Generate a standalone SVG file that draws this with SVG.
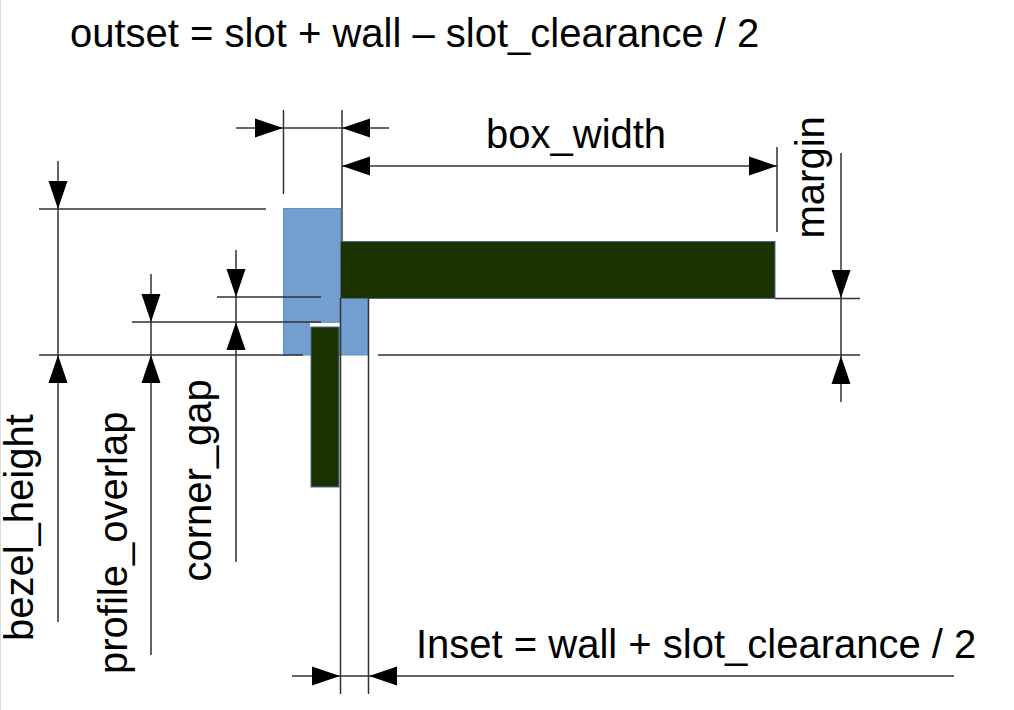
<svg xmlns="http://www.w3.org/2000/svg" width="1014" height="710" viewBox="0 0 1014 710">
<style>
text{font-family:"Liberation Sans",Arial,sans-serif;font-size:40px;fill:#000}
.l{stroke:#333;stroke-width:1.5;fill:none}
.blue{fill:#729fcf;stroke:#5f8fc4;stroke-width:1}
.green{fill:#1a3300;stroke:#4a6f8f;stroke-width:1}
.a{fill:#000}
</style>
<defs>
<path id="r" d="M0 0L-28 -9.500V9.500Z"/>
<path id="lf" d="M0 0L28 -9.500V9.500Z"/>
<path id="d" d="M0 0L-9.500 -28H9.500Z"/>
<path id="u" d="M0 0L-9.500 28H9.500Z"/>
</defs>
<rect width="1014" height="710" fill="#fff"/>
<rect x="0" y="0" width="1" height="710" fill="#ddd"/>
<g id="bezel">
<rect class="blue" x="283.500" y="208.500" width="57" height="146.500"/>
<rect class="blue" x="340.500" y="298" width="27.500" height="57"/>
</g>
<g id="profile-horizontal"><rect class="green" x="340.500" y="241.500" width="434.500" height="57"/></g>
<g id="profile-vertical">
<rect x="310" y="323" width="30" height="4" fill="#fff"/>
<rect class="green" x="311" y="327" width="28" height="160"/>
</g>
<g id="connectors">
<path class="l" d="M283.500 110V194M342 110V241M340.500 298V694M368.500 298V694M777 147V232M841 153V402M58 161V622M151 274V655M236 250V562"/>
<path class="l" d="M236 128H389M342 166H777M775 298.500H860M378 355H860M39 209H266M39 355H266M132 355H303M132 322H303M217 297H321M217 322H321M292 676H954"/>
<use class="a" href="#r" x="283" y="128"/><use class="a" href="#lf" x="342" y="128"/>
<use class="a" href="#lf" x="342" y="166"/><use class="a" href="#r" x="777" y="166"/>
<use class="a" href="#d" x="841" y="298"/><use class="a" href="#u" x="841" y="356"/>
<use class="a" href="#d" x="58" y="209"/><use class="a" href="#u" x="58" y="355"/>
<use class="a" href="#d" x="151" y="322"/><use class="a" href="#u" x="151" y="355"/>
<use class="a" href="#d" x="236" y="297"/><use class="a" href="#u" x="236" y="322"/>
<use class="a" href="#r" x="340" y="676"/><use class="a" href="#lf" x="369" y="676"/>
</g>
<g id="labels">
<text x="70" y="47">outset = slot + wall – slot_clearance / 2</text>
<text x="486" y="148">box_width</text>
<text x="416" y="658">Inset = wall + slot_clearance / 2</text>
<text transform="translate(823.500 238.500) rotate(-90)">margin</text>
<text transform="translate(32.500 641) rotate(-90)">bezel_height</text>
<text transform="translate(127 674) rotate(-90)">profile_overlap</text>
<text transform="translate(211 581.500) rotate(-90)">corner_gap</text>
</g>
</svg>
